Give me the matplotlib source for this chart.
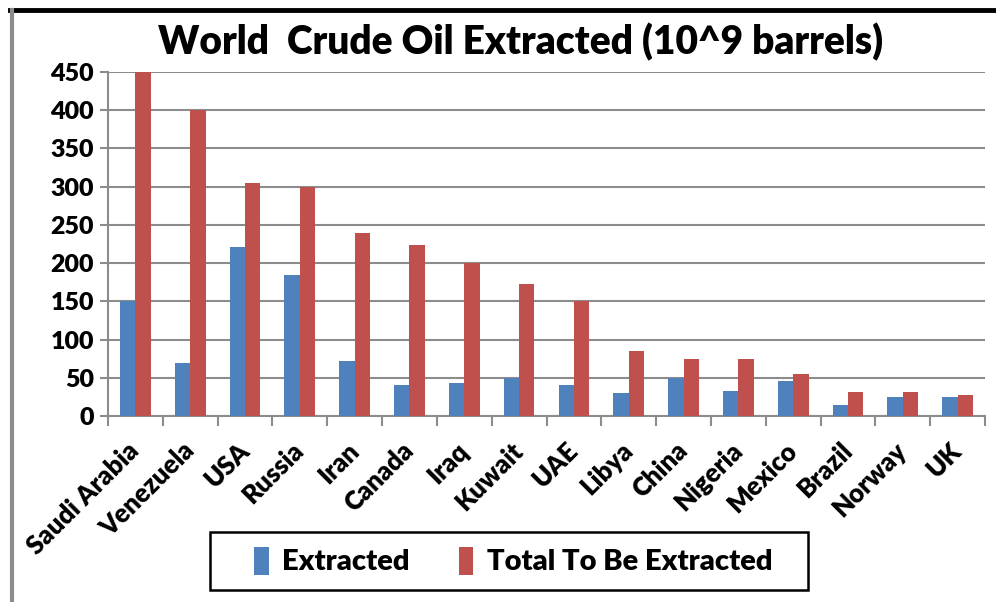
import matplotlib
matplotlib.use("Agg")
import matplotlib.pyplot as plt
import numpy as np
from matplotlib.lines import Line2D
from matplotlib.patches import Rectangle

countries = ["Saudi Arabia", "Venezuela", "USA", "Russia", "Iran", "Canada", "Iraq",
             "Kuwait", "UAE", "Libya", "China", "Nigeria", "Mexico", "Brazil", "Norway", "UK"]
extracted = [150, 69, 221, 184, 72, 40, 43, 50, 40, 30, 50, 33, 46, 14, 25, 25]
total_to_be = [450, 400, 305, 300, 239, 224, 200, 173, 150, 85, 74, 74, 55, 32, 32, 27]
yticks = [0, 50, 100, 150, 200, 250, 300, 350, 400, 450]

FONT = "Lato"
plt.rcParams['font.family'] = [FONT, 'DejaVu Sans']

fig = plt.figure(figsize=(9.96, 6.02), dpi=100)
ax = fig.add_axes([108/996, 1 - 416/602, (985-108)/996, (416-72)/602])

x = np.arange(len(countries))
w = 0.28
ax.bar(x - w/2, extracted, width=w, color="#4F81BD", label="Extracted", zorder=3)
ax.bar(x + w/2, total_to_be, width=w, color="#C0504D", label="Total To Be Extracted", zorder=3)

ax.set_xlim(-0.5, len(countries) - 0.5)
ax.set_ylim(0, 450)
ax.set_yticks(yticks)
ax.set_yticklabels([str(v) for v in yticks], fontsize=18, fontweight='heavy')
ax.yaxis.grid(True, color="#8C8C8C", linewidth=1.5, zorder=0)
ax.set_axisbelow(True)

ax.set_xticks(np.arange(-0.5, len(countries), 1.0))
ax.set_xticklabels([])
ax.set_xticks(x, minor=True)
ax.set_xticklabels(countries, minor=True, rotation=45, ha='right', va='center',
                   rotation_mode='anchor', fontsize=18.5, fontweight='heavy')
ax.tick_params(axis='x', which='minor', length=0, pad=22)
ax.tick_params(axis='x', which='major', length=7, width=1.5, color="#8C8C8C")
ax.tick_params(axis='y', length=6, width=1.5, color="#8C8C8C", pad=4)

for s in ['top', 'right']:
    ax.spines[s].set_visible(False)
for s in ['left', 'bottom']:
    ax.spines[s].set_color("#8C8C8C")
    ax.spines[s].set_linewidth(1.5)

fig.text(0.523, 1 - 42/602, "World  Crude Oil Extracted (10^9 barrels)", ha='center', va='center',
         fontsize=28, fontweight='heavy')

# legend frame
fig.add_artist(Rectangle((210/996, 1 - 590/602), (808-210)/996, (590-532)/602,
                         transform=fig.transFigure, facecolor='white', edgecolor='black',
                         linewidth=1.8, zorder=1))
leg = fig.legend(loc='center', bbox_to_anchor=(513/996, 1 - 561/602), ncol=2,
                 prop={'size': 21, 'weight': 'heavy'}, frameon=False,
                 handlelength=0.5, handleheight=1.1, columnspacing=1.7,
                 handletextpad=0.45, borderpad=0.3, borderaxespad=0)
leg.set_zorder(2)

# outer chart border (top dark, left gray)
fig.add_artist(Line2D([10/996, 1], [1 - 9.5/602, 1 - 9.5/602], color='black', linewidth=3.5,
                      transform=fig.transFigure))
fig.add_artist(Line2D([12/996, 12/996], [0, 1 - 9.5/602], color='#8C8C8C', linewidth=3,
                      transform=fig.transFigure))

fig.savefig("out.png", dpi=100)
